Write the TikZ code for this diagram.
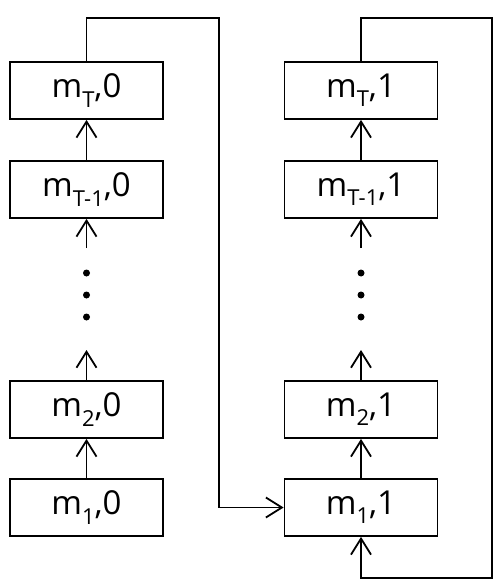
\documentclass[tikz,border=0pt]{standalone}
\usepackage{fontspec}
\setmainfont{Open Sans}
\usetikzlibrary{arrows.meta}
\newcommand{\sbs}[1]{\raisebox{-0.28em}{\fontsize{22}{24}\selectfont #1}}
\begin{document}
\begin{tikzpicture}[x=1pt,y=-1pt,
  box/.style={draw,line width=1.8pt,minimum width=153pt,minimum height=57pt,inner sep=0pt,font=\fontsize{33}{36}\selectfont},
  conn/.style={line width=1.8pt},
  arr/.style={conn,-{Straight Barb[length=16pt,width=20pt,line width=1.8pt]}},
  dot/.style={circle,fill,inner sep=0pt,minimum size=7pt}]
\useasboundingbox (0,0) rectangle (500,588);
% left column
\node[box] (a4) at (86.5,90.5) {m\sbs{T},0};
\node[box] (a3) at (86.5,189.5) {m\sbs{T-1},0};
\node[box] (a2) at (86.5,409.5) {m\sbs{2},0};
\node[box] (a1) at (86.5,507.5) {m\sbs{1},0};
% right column
\node[box] (b4) at (361,90.5) {m\sbs{T},1};
\node[box] (b3) at (361,189.5) {m\sbs{T-1},1};
\node[box] (b2) at (361,409.5) {m\sbs{2},1};
\node[box] (b1) at (361,507.5) {m\sbs{1},1};
% dots
\node[dot] (ad1) at (86.5,273) {};
\node[dot] (ad2) at (86.5,295) {};
\node[dot] (ad3) at (86.5,317) {};
\node[dot] (bd1) at (361,273) {};
\node[dot] (bd2) at (361,295) {};
\node[dot] (bd3) at (361,317) {};
% free ends
\coordinate (as) at (86.5,248);
\coordinate (ae) at (86.5,350);
\coordinate (bs) at (361,248);
\coordinate (be) at (361,350);
% arrows
\draw[arr] (a3.north) -- (a4.south);
\draw[arr] (as) -- (a3.south);
\draw[arr] (a2.north) -- (ae);
\draw[arr] (a1.north) -- (a2.south);
\draw[arr] (b3.north) -- (b4.south);
\draw[arr] (bs) -- (b3.south);
\draw[arr] (b2.north) -- (be);
\draw[arr] (b1.north) -- (b2.south);
% loops
\draw[arr] (a4.north) |- (219,18) |- (b1.west);
\draw[arr] (b4.north) |- (492,18) |- (361,578) -- (b1.south);
\end{tikzpicture}
\end{document}
